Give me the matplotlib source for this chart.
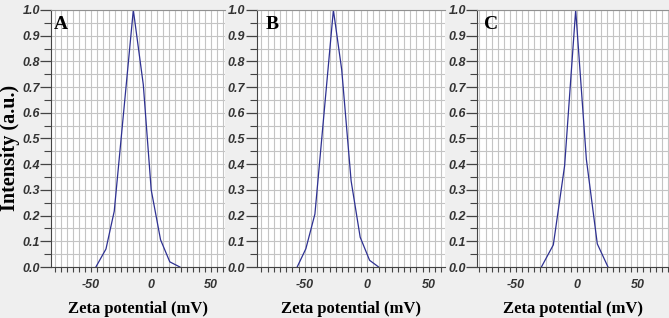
import matplotlib.pyplot as plt
from matplotlib.ticker import MultipleLocator, FormatStrFormatter

plt.rcParams["axes.unicode_minus"] = False

# values: zeta potential (mV) vs normalised intensity
zeta_a = [-45.6, -37.2, -30.3, -14.4, -6.1, 0.5, 8.3, 16.0, 24.4]
int_a = [0.0, 0.07, 0.217, 1.0, 0.71, 0.30, 0.106, 0.02, 0.0]

zeta_b = [-56.2, -49.2, -41.9, -27.0, -20.3, -12.7, -5.4, 2.2, 9.5]
int_b = [0.0, 0.071, 0.206, 1.0, 0.768, 0.335, 0.116, 0.026, 0.0]

zeta_c = [-29.0, -19.2, -9.9, -0.8, 8.0, 17.0, 25.8]
int_c = [0.0, 0.086, 0.394, 1.0, 0.419, 0.09, 0.0]

panel_letters = ["A", "B", "C"]
x_limits = [(-83, 62), (-89, 63), (-82, 76)]

W, H = 669, 318
fig = plt.figure(figsize=(W / 100, H / 100), dpi=100, facecolor="#efefef")

# axes boxes in pixels: left, right, and letter offset
boxes = [(51, 225, 3), (256.5, 445, 9), (477, 669, 7)]
top, bottom = 10, 267

series = [(zeta_a, int_a), (zeta_b, int_b), (zeta_c, int_c)]

for i, (xs, ys) in enumerate(series):
    l, r, off = boxes[i]
    ax = fig.add_axes([l / W, (H - bottom) / H, (r - l) / W, (bottom - top) / H])
    ax.set_facecolor("white")
    ax.plot(xs, ys, color="#2e3192", linewidth=0.9)
    ax.set_xlim(*x_limits[i])
    ax.set_ylim(0, 1.0)

    ax.xaxis.set_major_locator(MultipleLocator(50))
    ax.xaxis.set_minor_locator(MultipleLocator(5))
    ax.yaxis.set_major_locator(MultipleLocator(0.1))
    ax.yaxis.set_minor_locator(MultipleLocator(0.05))
    ax.yaxis.set_major_formatter(FormatStrFormatter("%.1f"))

    ax.grid(True, which="both", color="#c4c4c4", linewidth=0.8)
    ax.set_axisbelow(True)

    ax.tick_params(axis="y", which="major", direction="out", length=8, width=0.9,
                   color="#444444", labelcolor="#333333", pad=0)
    ax.tick_params(axis="y", which="minor", direction="out", length=5, width=0.8,
                   color="#444444")
    ax.tick_params(axis="x", which="both", direction="out", length=3.5, width=0.8,
                   color="#444444", labelcolor="#333333", pad=5)
    for lab in ax.get_xticklabels() + ax.get_yticklabels():
        lab.set_fontfamily("Liberation Sans")
        lab.set_fontweight("bold")
        lab.set_fontstyle("italic")
        lab.set_fontsize(9)

    ax.spines["right"].set_visible(False)
    ax.spines["top"].set_color("#909090")
    ax.spines["left"].set_color("#444444")
    ax.spines["bottom"].set_color("#444444")

    ax.set_xlabel("Zeta potential (mV)", family="Liberation Serif", weight="bold",
                  size=12, labelpad=7)

    ax.annotate(panel_letters[i], xy=(0, 1), xycoords="axes fraction",
                xytext=(off * 0.72, -4), textcoords="offset points",
                ha="left", va="top", family="Liberation Serif", weight="bold", size=14)

fig.text(10 / W, (H - 148) / H, "Intensity (a.u.)", rotation=90,
         ha="center", va="center", family="Liberation Serif", weight="bold", size=14.5)

fig.savefig("out.png", dpi=100, facecolor=fig.get_facecolor())
